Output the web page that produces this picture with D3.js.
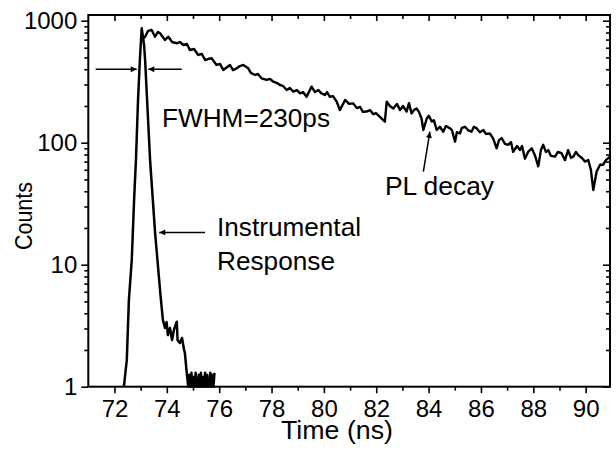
<!DOCTYPE html>
<html>
<head>
<meta charset="utf-8">
<script src="https://cdn.jsdelivr.net/npm/d3@7/dist/d3.min.js"></script>
<style>
  html, body { margin: 0; padding: 0; background: #fff; }
  svg { display: block; }
  text { font-family: "Liberation Sans", Arial, Helvetica, sans-serif; fill: #000; }
</style>
</head>
<body>
<svg id="chart" width="616" height="451"></svg>
<script>
// ---- data ----
const xMajorTicks = [72, 74, 76, 78, 80, 82, 84, 86, 88, 90];
const xMinorTicks = [73, 75, 77, 79, 81, 83, 85, 87, 89];
const yMajorTicks = [1, 10, 100, 1000];
const yMinorTicks = [2,3,4,5,6,7,8,9,20,30,40,50,60,70,80,90,200,300,400,500,600,700,800,900];

// Instrumental response (time ns, counts)
const irfTime = [72.36,72.47,72.55,72.66,72.75,72.82,72.90,72.97,73.04,73.13,73.17,73.36,73.55,73.75,73.85,
  73.93,73.99,74.04,74.12,74.20,74.27,74.38,74.41,74.50,74.58,74.66,74.69,74.76,74.82,
  74.86,74.90,74.94,74.98,75.02,75.06,75.10,75.14,75.18,75.22,75.26,75.30,75.34,75.38,75.42,75.46,75.50,75.54,75.58,75.62,75.66,75.70,75.74,75.78,75.82];
const irfCounts = [1.0,1.65,5.1,10.9,34,72,224,476,867,633,476,72,18.5,5.86,3.52,
  3.03,3.39,2.65,3.03,2.41,2.92,3.41,2.41,2.28,2.51,2.0,1.89,1.30,1.0,
  1.25,1.0,1.3,1.0,1.2,1.0,1.3,1.0,1.0,1.25,1.0,1.3,1.0,1.2,1.0,1.3,1.0,1.25,1.0,1.0,1.3,1.0,1.25,1.0,1.3];

// PL decay (time ns, counts)
const plTime = [73.10,73.17,73.28,73.42,73.55,73.66,73.74,73.93,74.06,74.20,74.38,74.50,74.63,74.77,74.88,75.04,
  75.20,75.34,75.46,75.57,75.71,75.90,76.03,76.16,76.26,76.41,76.53,76.67,76.79,76.92,77.11,77.21,77.37,77.48,
  77.62,77.81,77.94,78.07,78.21,78.32,78.44,78.58,78.70,78.83,78.97,79.09,79.20,79.34,79.53,79.66,79.79,79.89,
  80.04,80.12,80.23,80.35,80.49,80.61,80.81,80.96,81.12,81.26,81.38,81.49,81.63,81.76,81.89,81.99,82.14,82.33,
  82.40,82.52,82.65,82.79,82.91,83.02,83.16,83.25,83.35,83.44,83.54,83.63,83.73,83.80,83.93,84.01,84.12,84.20,
  84.31,84.43,84.56,84.66,84.82,84.89,85.01,85.08,85.20,85.27,85.39,85.50,85.64,85.73,85.84,85.96,86.09,86.19,
  86.34,86.46,86.60,86.69,86.79,86.92,87.04,87.15,87.23,87.38,87.49,87.57,87.68,87.80,87.94,88.06,88.19,88.29,
  88.38,88.48,88.57,88.67,88.83,88.94,89.08,89.21,89.33,89.44,89.53,89.63,89.72,89.86,89.97,90.10,90.20,90.29,
  90.42,90.55,90.67,90.77,90.93];
const plCounts = [718,739,824,839,739,808,788,695,739,669,653,669,632,644,575,586,
  524,533,476,485,492,434,442,394,410,434,394,407,425,434,407,373,359,366,
  337,327,333,316,308,297,292,270,281,262,270,254,260,238,288,260,270,255,
  246,260,238,241,217,185,224,208,210,192,197,179,180,185,171,175,163,149,
  217,200,191,208,185,200,180,211,174,185,191,179,158,127,158,166,149,153,
  127,135,123,137,131,127,102,122,119,132,135,127,123,135,131,122,127,118,
  119,109,90,105,109,98,96,101,84,94,87,94,74,84,90,79,64,87,
  96,84,87,78,77,84,82,72,87,75,77,84,79,75,70,72,60,41,
  58,66,66,72,77];

// ---- layout ----
const svg = d3.select("#chart");
const x = d3.scaleLinear().domain([71, 90.93]).range([88.3, 610]);
const y = d3.scaleLog().domain([1, 1000]).range([386.7, 20.7]);
const plotTop = 15;
const fontSize = 24;

// curves
const line = d3.line().x(d => x(d[0])).y(d => y(d[1]));
const irf = irfTime.map((t, i) => [t, irfCounts[i]]);
const pl = plTime.map((t, i) => [t, plCounts[i]]);

svg.append("path").datum(irf).attr("d", line)
  .attr("fill", "none").attr("stroke", "#000").attr("stroke-width", 2.5).attr("stroke-linejoin", "round");
svg.append("path").datum(pl).attr("d", line)
  .attr("fill", "none").attr("stroke", "#000").attr("stroke-width", 2.4).attr("stroke-linejoin", "round");

// frame
const x0 = x.range()[0], x1 = x.range()[1], yb = y.range()[0];
svg.append("rect").attr("x", x0).attr("y", plotTop).attr("width", x1 - x0).attr("height", yb - plotTop)
  .attr("fill", "none").attr("stroke", "#000").attr("stroke-width", 2);

function styleAxis(g) {
  g.select(".domain").remove();
  g.selectAll(".tick line").attr("stroke", "#000").attr("stroke-width", 1.6);
  g.selectAll(".tick text").style("font-size", fontSize + "px")
    .style("font-family", '"Liberation Sans", Arial, sans-serif').attr("fill", "#000");
}

// bottom axis (outward)
svg.append("g").attr("transform", `translate(0,${yb})`)
  .call(d3.axisBottom(x).tickValues(xMajorTicks).tickSize(6.5).tickPadding(7).tickFormat(d3.format("d")))
  .call(styleAxis);
svg.append("g").attr("transform", `translate(0,${yb})`)
  .call(d3.axisBottom(x).tickValues(xMinorTicks).tickSize(4).tickFormat(""))
  .call(styleAxis);
// top axis (inward)
svg.append("g").attr("transform", `translate(0,${plotTop})`)
  .call(d3.axisBottom(x).tickValues(xMajorTicks).tickSize(6).tickFormat(""))
  .call(styleAxis);
svg.append("g").attr("transform", `translate(0,${plotTop})`)
  .call(d3.axisBottom(x).tickValues(xMinorTicks).tickSize(4).tickFormat(""))
  .call(styleAxis);
// left axis (outward)
svg.append("g").attr("transform", `translate(${x0},0)`)
  .call(d3.axisLeft(y).tickValues(yMajorTicks).tickSize(7).tickPadding(4).tickFormat(d3.format("d")))
  .call(styleAxis);
svg.append("g").attr("transform", `translate(${x0},0)`)
  .call(d3.axisLeft(y).tickValues(yMinorTicks).tickSize(4).tickFormat(""))
  .call(styleAxis);
// right axis (inward)
svg.append("g").attr("transform", `translate(${x1},0)`)
  .call(d3.axisRight(y).tickValues(yMajorTicks).tickSize(-7).tickFormat(""))
  .call(styleAxis);
svg.append("g").attr("transform", `translate(${x1},0)`)
  .call(d3.axisRight(y).tickValues(yMinorTicks).tickSize(-4).tickFormat(""))
  .call(styleAxis);

// helper for stretched text (reference glyphs are slightly wide)
function label(px, py, str, size, len, anchor) {
  return svg.append("text").attr("x", px).attr("y", py)
    .attr("text-anchor", anchor || "start")
    .attr("textLength", len).attr("lengthAdjust", "spacingAndGlyphs")
    .style("font-size", size + "px").text(str);
}

// axis titles
label(281, 439, "Time (ns)", 25, 112);
svg.append("text").attr("transform", "translate(32,216) rotate(-90)").attr("text-anchor", "middle")
  .attr("textLength", 68).attr("lengthAdjust", "spacingAndGlyphs")
  .style("font-size", "24px").text("Counts");

// arrows
const defs = svg.append("defs");
defs.append("marker").attr("id", "ah").attr("viewBox", "0 0 10 10").attr("refX", 10).attr("refY", 5)
  .attr("markerWidth", 9).attr("markerHeight", 6).attr("markerUnits", "userSpaceOnUse").attr("orient", "auto")
  .append("path").attr("d", "M0,0 L10,5 L0,10 Z").attr("fill", "#000");

function arrow(ta, ca, tb, cb) {
  svg.append("line").attr("x1", x(ta)).attr("y1", y(ca)).attr("x2", x(tb)).attr("y2", y(cb))
    .attr("stroke", "#000").attr("stroke-width", 1.5).attr("marker-end", "url(#ah)");
}
arrow(71.28, 400, 72.85, 400);
arrow(74.57, 400, 73.29, 400);
arrow(75.46, 18.4, 73.71, 18.4);
arrow(83.80, 57.8, 84.05, 123);

// annotations
label(162, 127, "FWHM=230ps", 25, 168);
label(217, 236, "Instrumental", 25, 144);
label(217, 270, "Response", 25, 118);
label(385, 195, "PL decay", 26, 109);
</script>
</body>
</html>
